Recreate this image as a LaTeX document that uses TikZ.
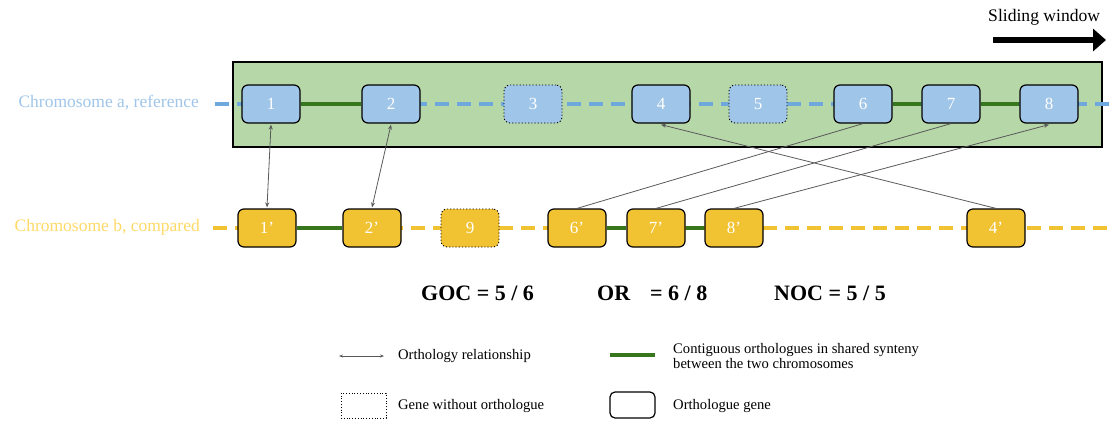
\documentclass[tikz,border=0pt]{standalone}
\usepackage{fontspec}
\setmainfont{Liberation Serif}
\usetikzlibrary{arrows.meta}
\definecolor{winfill}{HTML}{B6D7A8}
\definecolor{geneblue}{HTML}{9FC5E8}
\definecolor{lineblue}{HTML}{6FA8DC}
\definecolor{labelblue}{HTML}{9FC5E8}
\definecolor{geneyellow}{HTML}{F1C232}
\definecolor{lineyellow}{HTML}{F1C232}
\definecolor{labelyellow}{HTML}{FFD966}
\definecolor{syngreen}{HTML}{38761D}
\definecolor{relgray}{HTML}{595959}
\begin{document}
\begin{tikzpicture}[x=1pt,y=-1pt,
  gene/.style={rectangle, rounded corners=6pt, minimum width=58pt, minimum height=38pt,
    draw=black, line width=1.2pt, text=white, inner sep=0pt,
    font=\fontsize{17}{20}\selectfont},
  agene/.style={gene, fill=geneblue},
  bgene/.style={gene, fill=geneyellow},
  noortho/.style={dotted, line width=0.9pt},
  chromA/.style={lineblue, line width=4pt, dash pattern=on 14pt off 8pt},
  chromB/.style={lineyellow, line width=4pt, dash pattern=on 14pt off 8pt},
  synteny/.style={syngreen, line width=4pt},
  rel/.style={relgray, line width=0.8pt},
  reltip/.style={-{Stealth[length=5pt,width=4pt]}},
  chromlabel/.style={font=\fontsize{17.5}{20}\selectfont, anchor=east, inner sep=0pt},
  metric/.style={font=\fontsize{22}{24}\selectfont\bfseries, anchor=west, inner sep=0pt},
  legtext/.style={font=\fontsize{14.6}{15}\selectfont, anchor=west, inner sep=0pt, align=left}
]
\useasboundingbox (0,0) rectangle (1115,421);

% sliding window
\node[font=\fontsize{17.6}{20}\selectfont, anchor=west, inner sep=0pt] (swtext) at (988,17) {Sliding window};
\coordinate (sws) at (993,40);
\coordinate (swe) at (1106,40);
\draw[line width=6pt, -{Triangle[length=13pt,width=22pt]}] (sws) -- (swe);

% window rectangle
\node[draw=black, line width=2pt, fill=winfill, minimum width=869pt, minimum height=85pt, inner sep=0pt] (win) at (667.5,104.5) {};

% chromosome lines
\coordinate (aL) at (215,104);
\coordinate (aR) at (1112,104);
\coordinate (bL) at (213,228);
\coordinate (bR) at (1112,228);
\draw[chromA] (aL) -- (aR);
\draw[chromB] (bL) -- (bR);

% labels
\node[chromlabel, text=labelblue] (la) at (199,103) {Chromosome a, reference};
\node[chromlabel, text=labelyellow] (lb) at (200,227) {Chromosome b, compared};

% genes chromosome a
\node[agene] (a1) at (271,104) {1};
\node[agene] (a2) at (391,104) {2};
\node[agene, noortho] (a3) at (533,104) {3};
\node[agene] (a4) at (661,104) {4};
\node[agene, noortho] (a5) at (758,104) {5};
\node[agene] (a6) at (863,104) {6};
\node[agene] (a7) at (951,104) {7};
\node[agene] (a8) at (1049,104) {8};

% genes chromosome b
\node[bgene] (b1) at (267,228) {1’};
\node[bgene] (b2) at (372,228) {2’};
\node[bgene, noortho] (b9) at (470,228) {9};
\node[bgene] (b6) at (577,228) {6’};
\node[bgene] (b7) at (656,228) {7’};
\node[bgene] (b8) at (734,228) {8’};
\node[bgene] (b4) at (996,228) {4’};

% synteny
\draw[synteny] (a1) -- (a2);
\draw[synteny] (a6) -- (a7);
\draw[synteny] (a7) -- (a8);
\draw[synteny] (b1) -- (b2);
\draw[synteny] (b6) -- (b7);
\draw[synteny] (b7) -- (b8);

% orthology relationships
\draw[rel, {Stealth[length=5pt,width=4pt]}-{Stealth[length=5pt,width=4pt]}] ([yshift=-1pt]a1.south) -- ([yshift=1pt]b1.north);
\draw[rel, {Stealth[length=5pt,width=4pt]}-{Stealth[length=5pt,width=4pt]}] ([yshift=-1pt]a2.south) -- ([yshift=1pt]b2.north);
\draw[rel, reltip] (b4.north) -- ([yshift=-1pt]a4.south);
\draw[rel] (b6.north) -- (a6.south);
\draw[rel] (b7.north) -- (a7.south);
\draw[rel, reltip] (b8.north) -- ([yshift=-1pt]a8.south);

% metrics
\node[metric] (goc) at (421,293) {GOC = 5 / 6};
\node[metric] (or) at (597,293) {OR\hspace{20pt}= 6 / 8};
\node[metric] (noc) at (774,293) {NOC = 5 / 5};

% legend
\coordinate (l1s) at (339,356);
\coordinate (l1e) at (384,356);
\draw[rel, line width=0.7pt, {Stealth[length=4pt,width=3pt]}-{Stealth[length=4pt,width=3pt]}] (l1s) -- (l1e);
\node[legtext] (t1) at (398,356) {Orthology relationship};

\coordinate (l2s) at (610,355);
\coordinate (l2e) at (655,355);
\draw[synteny] (l2s) -- (l2e);
\node[legtext] (t2) at (673,356) {Contiguous orthologues in shared synteny\\between the two chromosomes};

\node[draw=black, noortho, line width=0.8pt, minimum width=45pt, minimum height=25pt, inner sep=0pt] (l3) at (363.5,405.5) {};
\node[legtext] (t3) at (398,406) {Gene without orthologue};

\node[draw=black, rounded corners=5pt, line width=1.2pt, minimum width=45pt, minimum height=26pt, inner sep=0pt] (l4) at (632.5,405) {};
\node[legtext] (t4) at (673,406) {Orthologue gene};
\end{tikzpicture}
\end{document}
